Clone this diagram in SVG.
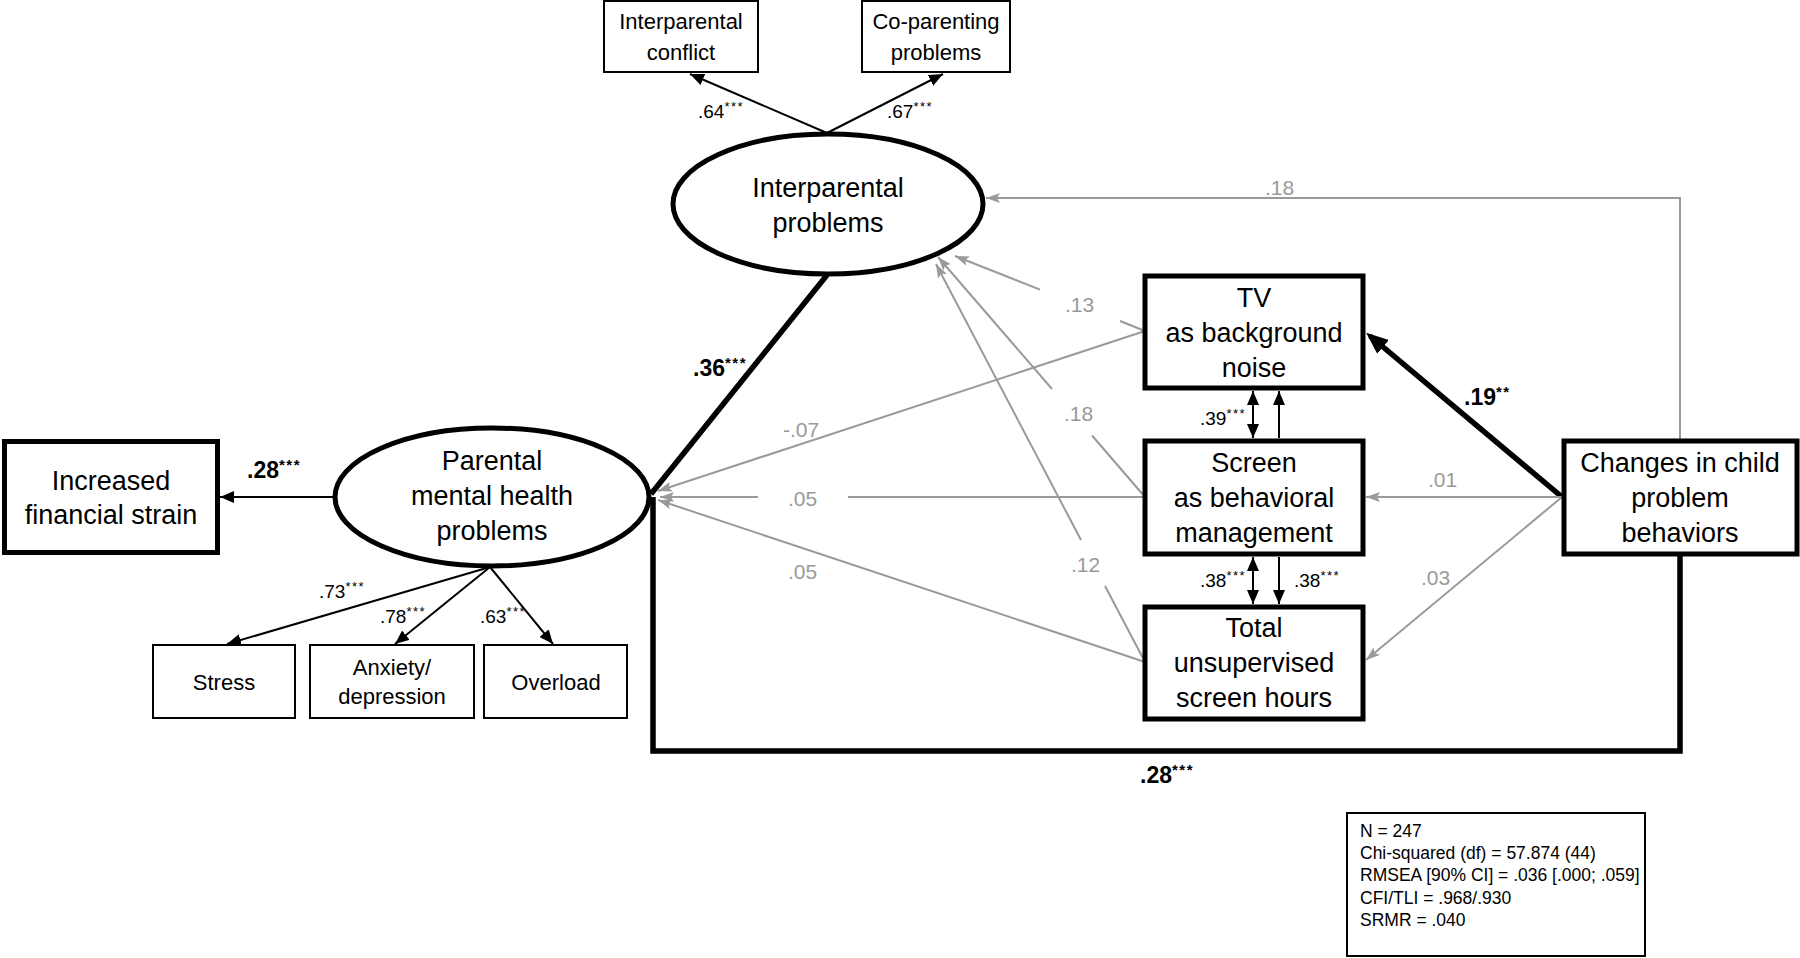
<svg xmlns="http://www.w3.org/2000/svg" width="1800" height="958" viewBox="0 0 1800 958">
<style>
text{font-family:"Liberation Sans",Arial,sans-serif;fill:#000}
.c{text-anchor:middle}
.big{font-size:27px}
.sm{font-size:22px}
.box{fill:#fff;stroke:#000;stroke-width:5}
.sbox{fill:#fff;stroke:#000;stroke-width:2}
.ell{fill:#fff;stroke:#000;stroke-width:5}
.k{stroke:#000;stroke-width:2;fill:none}
.kk{stroke:#000;stroke-width:5.5;fill:none}
.g{stroke:#9a9a9a;stroke-width:2;fill:none}
.gl{font-size:21px;fill:#9a9a9a}
.cl{font-size:19px}
.bl{font-size:23px;font-weight:bold}
.st{font-size:13px;letter-spacing:1.5px}
.bst{font-size:15px;letter-spacing:1.5px;font-weight:bold}
.stat{font-size:17.5px}
</style>
<defs>
<marker id="ak" viewBox="0 0 14 12" refX="14" refY="6" markerWidth="14" markerHeight="12" markerUnits="userSpaceOnUse" orient="auto-start-reverse"><path d="M0,0 L14,6 L0,12 z" fill="#000"/></marker>
<marker id="akk" viewBox="0 0 22 18" refX="17" refY="9" markerWidth="22" markerHeight="18" markerUnits="userSpaceOnUse" orient="auto"><path d="M0,0 L22,9 L0,18 z" fill="#000"/></marker>
<marker id="ag" viewBox="0 0 14 10" refX="14" refY="5" markerWidth="14" markerHeight="10" markerUnits="userSpaceOnUse" orient="auto"><path d="M0,0 L14,5 L0,10 L3,5 z" fill="#9a9a9a"/></marker>
</defs>
<rect width="1800" height="958" fill="#fff"/>

<g id="connectors">
<!-- loadings -->
<line class="k" x1="827" y1="133" x2="690" y2="74" marker-end="url(#ak)"/>
<line class="k" x1="827" y1="133" x2="943" y2="74" marker-end="url(#ak)"/>
<line class="k" x1="335" y1="497" x2="220" y2="497" marker-end="url(#ak)"/>
<line class="k" x1="490" y1="567" x2="227" y2="644" marker-end="url(#ak)"/>
<line class="k" x1="490" y1="567" x2="395" y2="644" marker-end="url(#ak)"/>
<line class="k" x1="490" y1="567" x2="553" y2="644" marker-end="url(#ak)"/>
<!-- covariances -->
<line class="k" x1="1253" y1="391" x2="1253" y2="438" marker-start="url(#ak)" marker-end="url(#ak)"/>
<line class="k" x1="1279" y1="438" x2="1279" y2="391" marker-end="url(#ak)"/>
<line class="k" x1="1253" y1="557" x2="1253" y2="604" marker-start="url(#ak)" marker-end="url(#ak)"/>
<line class="k" x1="1279" y1="557" x2="1279" y2="604" marker-end="url(#ak)"/>
<!-- thick paths -->
<line class="kk" x1="827" y1="275" x2="651" y2="494"/>
<polyline class="kk" points="1680,556 1680,751 653,751 653,497"/>
<line class="kk" x1="1562" y1="497" x2="1370" y2="336" marker-end="url(#akk)"/>
<!-- gray paths -->
<polyline class="g" points="1680,441 1680,198 986,198" marker-end="url(#ag)"/>
<line class="g" x1="1145" y1="331" x2="1120" y2="321"/>
<line class="g" x1="1040" y1="289.6" x2="955" y2="256" marker-end="url(#ag)"/>
<line class="g" x1="1145" y1="331" x2="658" y2="491" marker-end="url(#ag)"/>
<line class="g" x1="1145" y1="497" x2="1092" y2="435.5"/>
<line class="g" x1="1052" y1="389" x2="938" y2="257" marker-end="url(#ag)"/>
<line class="g" x1="1145" y1="497" x2="848" y2="497"/>
<line class="g" x1="758" y1="497" x2="660" y2="497" marker-end="url(#ag)"/>
<line class="g" x1="1145" y1="662" x2="658" y2="500" marker-end="url(#ag)"/>
<line class="g" x1="1145" y1="662" x2="1105" y2="586"/>
<line class="g" x1="1081" y1="540" x2="936" y2="264" marker-end="url(#ag)"/>
<line class="g" x1="1562" y1="497" x2="1366" y2="497" marker-end="url(#ag)"/>
<line class="g" x1="1562" y1="497" x2="1366" y2="660" marker-end="url(#ag)"/>
</g>

<g id="labels">
<text class="cl" x="698" y="118">.64<tspan class="st" dy="-7">***</tspan></text>
<text class="cl" x="887" y="118">.67<tspan class="st" dy="-7">***</tspan></text>
<text class="bl" x="247" y="478">.28<tspan class="bst" dy="-8">***</tspan></text>
<text class="cl" x="319" y="598">.73<tspan class="st" dy="-7">***</tspan></text>
<text class="cl" x="380" y="623">.78<tspan class="st" dy="-7">***</tspan></text>
<text class="cl" x="480" y="623">.63<tspan class="st" dy="-7">***</tspan></text>
<text class="bl" x="693" y="376">.36<tspan class="bst" dy="-8">***</tspan></text>
<text class="cl" x="1200" y="425">.39<tspan class="st" dy="-7">***</tspan></text>
<text class="cl" x="1200" y="587">.38<tspan class="st" dy="-7">***</tspan></text>
<text class="cl" x="1294" y="587">.38<tspan class="st" dy="-7">***</tspan></text>
<text class="bl" x="1464" y="405">.19<tspan class="bst" dy="-8">**</tspan></text>
<text class="bl" x="1140" y="783">.28<tspan class="bst" dy="-8">***</tspan></text>
<text class="gl" x="1265" y="195">.18</text>
<text class="gl" x="1065" y="312">.13</text>
<text class="gl" x="1064" y="421">.18</text>
<text class="gl" x="783" y="437">-.07</text>
<text class="gl" x="788" y="506">.05</text>
<text class="gl" x="788" y="579">.05</text>
<text class="gl" x="1071" y="572">.12</text>
<text class="gl" x="1428" y="487">.01</text>
<text class="gl" x="1421" y="585">.03</text>
</g>

<g id="interparental-conflict">
<rect class="sbox" x="604" y="1" width="154" height="71"/>
<text class="sm c" x="681" y="29">Interparental</text>
<text class="sm c" x="681" y="60">conflict</text>
</g>
<g id="co-parenting-problems">
<rect class="sbox" x="862" y="1" width="148" height="71"/>
<text class="sm c" x="936" y="29">Co-parenting</text>
<text class="sm c" x="936" y="60">problems</text>
</g>
<g id="interparental-problems">
<ellipse class="ell" cx="828" cy="204" rx="155" ry="70"/>
<text class="big c" x="828" y="197">Interparental</text>
<text class="big c" x="828" y="232">problems</text>
</g>
<g id="parental-mental-health">
<ellipse class="ell" cx="492" cy="497" rx="157" ry="69"/>
<text class="big c" x="492" y="470">Parental</text>
<text class="big c" x="492" y="505">mental health</text>
<text class="big c" x="492" y="540">problems</text>
</g>
<g id="financial-strain">
<rect class="box" x="4.5" y="441.5" width="213" height="111"/>
<text class="big c" x="111" y="490">Increased</text>
<text class="big c" x="111" y="524">financial strain</text>
</g>
<g id="stress">
<rect class="sbox" x="153" y="645" width="142" height="73"/>
<text class="sm c" x="224" y="690">Stress</text>
</g>
<g id="anxiety">
<rect class="sbox" x="310" y="645" width="164" height="73"/>
<text class="sm c" x="392" y="675">Anxiety/</text>
<text class="sm c" x="392" y="704">depression</text>
</g>
<g id="overload">
<rect class="sbox" x="484" y="645" width="143" height="73"/>
<text class="sm c" x="556" y="690">Overload</text>
</g>
<g id="tv-background">
<rect class="box" x="1145" y="276" width="218" height="112"/>
<text class="big c" x="1254" y="307">TV</text>
<text class="big c" x="1254" y="342">as background</text>
<text class="big c" x="1254" y="377">noise</text>
</g>
<g id="screen-management">
<rect class="box" x="1145" y="441" width="218" height="113"/>
<text class="big c" x="1254" y="472">Screen</text>
<text class="big c" x="1254" y="507">as behavioral</text>
<text class="big c" x="1254" y="542">management</text>
</g>
<g id="screen-hours">
<rect class="box" x="1145" y="607" width="218" height="112"/>
<text class="big c" x="1254" y="637">Total</text>
<text class="big c" x="1254" y="672">unsupervised</text>
<text class="big c" x="1254" y="707">screen hours</text>
</g>
<g id="child-behaviors">
<rect class="box" x="1564" y="441" width="233" height="113"/>
<text class="big c" x="1680" y="472">Changes in child</text>
<text class="big c" x="1680" y="507">problem</text>
<text class="big c" x="1680" y="542">behaviors</text>
</g>
<g id="fit-statistics">
<rect x="1347" y="813" width="298" height="143" fill="#fff" stroke="#000" stroke-width="2"/>
<text class="stat" x="1360" y="837">N = 247</text>
<text class="stat" x="1360" y="859">Chi-squared (df) = 57.874 (44)</text>
<text class="stat" x="1360" y="881">RMSEA [90% CI] = .036 [.000; .059]</text>
<text class="stat" x="1360" y="904">CFI/TLI = .968/.930</text>
<text class="stat" x="1360" y="926">SRMR = .040</text>
</g>
</svg>
